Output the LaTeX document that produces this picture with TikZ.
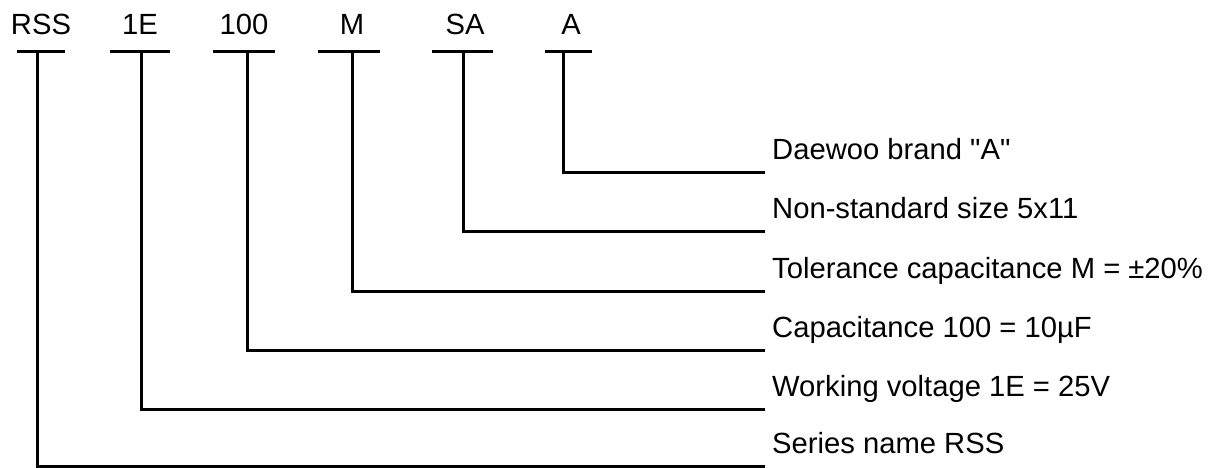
\documentclass[tikz,border=0pt]{standalone}
\usepackage{fontspec}
\setmainfont{Liberation Sans}
\begin{document}
\begin{tikzpicture}[x=1pt,y=-1pt,
  lbl/.style={font=\fontsize{29.2}{31}\selectfont, inner sep=0pt, anchor=base},
  desc/.style={font=\fontsize{29.2}{31}\selectfont, inner sep=0pt, anchor=base west},
  wire/.style={line width=3pt, line join=miter}]
\useasboundingbox (0,0) rectangle (1215,468);
% top labels
\node[lbl] (tRSS) at (41,35) {RSS};
\node[lbl] (t1E) at (140,35) {1E};
\node[lbl] (t100) at (244,35) {100};
\node[lbl] (tM) at (352,35) {M};
\node[lbl] (tSA) at (465,35) {SA};
\node[lbl] (tA) at (571,35) {A};
% bars
\coordinate (bRSSa) at (17,52); \coordinate (bRSSb) at (65,52);
\coordinate (b1Ea) at (110,52); \coordinate (b1Eb) at (170,52);
\coordinate (b100a) at (213,52); \coordinate (b100b) at (275,52);
\coordinate (bMa) at (318,52); \coordinate (bMb) at (380,52);
\coordinate (bSAa) at (432,52); \coordinate (bSAb) at (493,52);
\coordinate (bAa) at (545,52); \coordinate (bAb) at (592,52);
\foreach \n in {RSS,1E,100,M,SA,A} {\draw[wire] (b\n a) -- (b\n b);}
% vertical starts
\coordinate (vRSS) at (37,52);
\coordinate (v1E) at (141,52);
\coordinate (v100) at (247,52);
\coordinate (vM) at (352,52);
\coordinate (vSA) at (463,52);
\coordinate (vA) at (563,52);
% line ends
\coordinate (eA) at (765,172);
\coordinate (eSA) at (765,231);
\coordinate (eM) at (765,291);
\coordinate (e100) at (765,350);
\coordinate (e1E) at (765,409);
\coordinate (eRSS) at (765,466);
% descriptions
\node[desc] (dA) at (772,159) {Daewoo brand \textquotedbl A\textquotedbl};
\node[desc] (dSA) at (772,218) {Non-standard size 5x11};
\node[desc] (dM) at (772,278) {Tolerance capacitance M = ±20\%};
\node[desc] (d100) at (772,337) {Capacitance 100 = 10µF};
\node[desc] (d1E) at (772,396) {Working voltage 1E = 25V};
\node[desc] (dRSS) at (772,453) {Series name RSS};
% connectors
\foreach \n in {RSS,1E,100,M,SA,A} {\draw[wire] (v\n) |- (e\n);}
\end{tikzpicture}
\end{document}
